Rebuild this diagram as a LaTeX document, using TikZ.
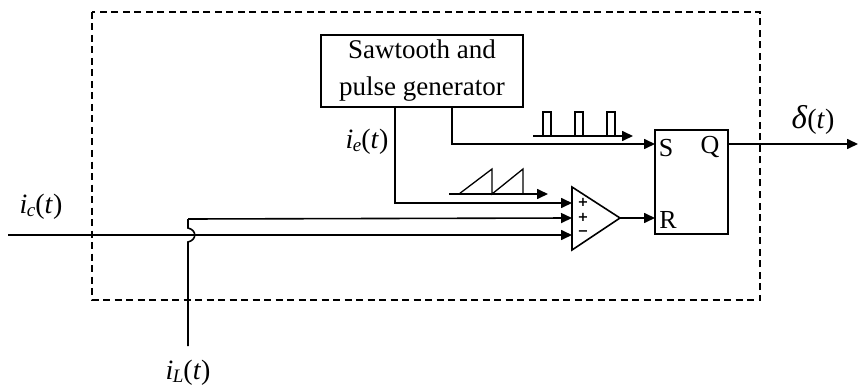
\documentclass[tikz,border=0pt]{standalone}
\usepackage{fontspec}
\setmainfont{Liberation Serif}
\newfontfamily\sgnfont{DejaVu Sans}
\usetikzlibrary{arrows.meta}
\tikzset{
  x=1pt,y=-1pt,
  wire/.style={line width=1.6pt},
  arr/.style={wire,-{Triangle[length=11pt,width=10pt]}},
  blk/.style={draw,line width=1.6pt,inner sep=0pt,outer sep=0pt,align=center},
  lbl/.style={inner sep=0pt,outer sep=0pt,font=\fontsize{28}{32}\selectfont},
  txt/.style={inner sep=0pt,outer sep=0pt,font=\fontsize{26}{30}\selectfont},
  sgn/.style={inner sep=0pt,outer sep=0pt,font=\sgnfont\bfseries\fontsize{13}{13}\selectfont},
}
\begin{document}
\begin{tikzpicture}
\useasboundingbox (0,0) rectangle (858,390);
\fill[white] (0,0) rectangle (858,390);
% dashed enclosure
\draw[line width=1.4pt,dash pattern=on 7pt off 4.5pt] (92,12) rectangle (760,300);
% blocks
\node[blk,minimum width=202pt,minimum height=72pt,font=\fontsize{27}{37}\selectfont] (gen) at (422,71) {Sawtooth and\\pulse generator};
\node[blk,minimum width=73pt,minimum height=104pt] (sr) at (691.5,182) {};
\node[txt] (s) at (666,148) {S};
\node[txt] (q) at (710,147) {Q};
\node[txt] (r) at (668,220) {R};
% comparator
\coordinate (ct) at (572,187);
\coordinate (cb) at (572,250);
\coordinate (ca) at (620,218);
\draw[wire,line join=miter] (ct) -- (ca) -- (cb) -- cycle;
\node[sgn] (p1) at (583,202) {+};
\node[sgn] (p2) at (583,217) {+};
\node[sgn] (m1) at (583,233) {−};
% input tips on the comparator edge
\coordinate (in1) at (572,203);
\coordinate (in2) at (572,218);
\coordinate (in3) at (572,235);
\coordinate (srS) at (655,144);
\coordinate (srR) at (655,218);
\coordinate (srQ) at (728,144);
% generator outputs
\coordinate (g1) at (395,107);
\coordinate (g2) at (452,107);
\draw[arr] (g1) |- (in1);
\draw[arr] (g2) |- (srS);
% comparator output and latch output
\draw[arr] (ca) -- (srR);
\coordinate (out) at (858,144);
\draw[arr] (srQ) -- (out);
% i_c input
\coordinate (icstart) at (8,235);
\draw[arr] (icstart) -- (in3);
% i_L input with hop
\coordinate (ilstart) at (188,346);
\coordinate (hopb) at (188,242);
\coordinate (hopt) at (188,228);
\coordinate (corner) at (188,219);
\draw[wire] (ilstart) -- (hopb) .. controls (197,240) and (197,230) .. (hopt) -- (corner);
\draw[arr] (corner) -- (in2);
% pulse train sketch
\coordinate (pb0) at (533,136);
\coordinate (pb1) at (633,136);
\draw[arr] (pb0) -- (pb1);
\draw[line width=1.2pt] (543,136) |- (551,112) -- (551,136);
\draw[line width=1.2pt] (575,136) |- (583,112) -- (583,136);
\draw[line width=1.2pt] (607,136) |- (615,112) -- (615,136);
% sawtooth sketch
\coordinate (sb0) at (449,194);
\coordinate (sb1) at (548,194);
\draw[arr] (sb0) -- (sb1);
\draw[line width=1.3pt] (459,194) -- (492,169) -- (492,194) -- (523,169) -- (523,194);
% labels
\node[lbl] (lic) at (41,207) {\textit{i\kern-.5pt\raisebox{-3pt}{\fontsize{19}{19}\selectfont c}}(\textit{t})};
\node[lbl] (lie) at (367,142) {\textit{i\kern-.5pt\raisebox{-3pt}{\fontsize{19}{19}\selectfont e}}(\textit{t})};
\node[lbl] (lil) at (188,373) {\textit{i\kern-.5pt\raisebox{-3pt}{\fontsize{19}{19}\selectfont L}}(\textit{t})};
\node[lbl] (ld) at (813,120) {{\fontsize{33}{33}\selectfont\textit{δ}}(\textit{t})};
\end{tikzpicture}
\end{document}
